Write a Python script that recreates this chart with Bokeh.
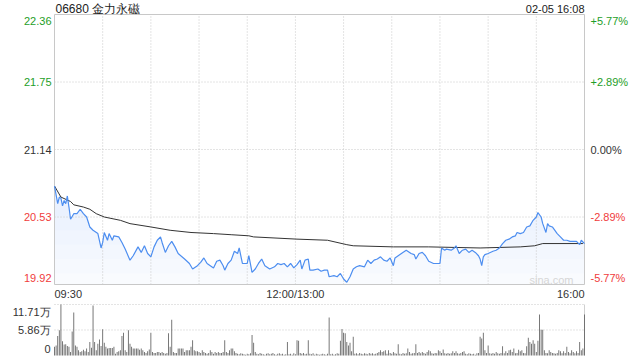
import numpy as np
from bokeh.plotting import figure
from bokeh.models import Range1d, Label
from bokeh.embed import file_html
from bokeh.resources import INLINE

# ---------------- data ----------------
title_text = "06680 金力永磁"
stamp_text = "02-05 16:08"
prev_close = 21.14
price_ticks = [22.36, 21.75, 21.14, 20.53, 19.92]
price_tick_labels = ["22.36", "21.75", "21.14", "20.53", "19.92"]
pct_tick_labels = ["+5.77%", "+2.89%", "0.00%", "-2.89%", "-5.77%"]
time_ticks = [0, 150, 330]            # minutes since 09:30 (lunch break removed)
time_labels = ["09:30", "12:00/13:00", "16:00"]
vol_ticks = [117.1, 58.6, 0]          # thousand shares
vol_tick_labels = ["11.71万", "5.86万", "0"]

# minute-of-session, last price
price_t = [0, 2, 3, 4, 5, 6, 7, 8, 9, 10, 12, 14, 16, 18, 20, 22, 24, 27, 29, 30,
           31, 33, 34, 36, 37, 40, 42, 44, 47, 49, 52, 54, 56, 58, 60, 62, 64, 66, 67, 69,
           71, 73, 75, 77, 81, 84, 86, 89, 91, 93, 95, 97, 99, 101, 103, 105, 106, 108, 110, 112,
           114, 115, 117, 120, 121, 123, 125, 127, 129, 131, 134, 137, 139, 141, 143, 145, 147, 149, 151, 153,
           154, 156, 158, 159, 161, 164, 166, 168, 170, 171, 174, 176, 178, 180, 182, 184, 186, 188, 190, 193,
           195, 197, 199, 201, 203, 205, 207, 209, 211, 212, 214, 216, 219, 222, 224, 225, 227, 229, 231, 233,
           236, 240, 241, 243, 244, 247, 249, 250, 252, 254, 256, 258, 260, 262, 264, 265, 266, 267, 268, 270,
           273, 275, 277, 279, 281, 283, 285, 287, 288, 290, 292, 294, 296, 298, 300, 301, 303, 304, 306, 307,
           308, 310, 311, 313, 315, 317, 319, 321, 323, 325, 327, 328, 330]
price_v = [20.81, 20.65, 20.71, 20.70, 20.63, 20.68, 20.65, 20.72, 20.62, 20.51, 20.56, 20.56, 20.60, 20.56, 20.53, 20.44, 20.41, 20.38, 20.25, 20.30,
           20.39, 20.32, 20.38, 20.32, 20.36, 20.35, 20.30, 20.24, 20.14, 20.18, 20.26, 20.21, 20.27, 20.20, 20.17, 20.26, 20.32, 20.35, 20.30, 20.21,
           20.27, 20.31, 20.26, 20.20, 20.15, 20.11, 20.06, 20.09, 20.12, 20.16, 20.11, 20.09, 20.07, 20.13, 20.14, 20.09, 20.05, 20.11, 20.14, 20.22,
           20.20, 20.25, 20.11, 20.11, 20.18, 20.03, 20.06, 20.11, 20.15, 20.09, 20.06, 20.08, 20.11, 20.10, 20.11, 20.08, 20.11, 20.07, 20.10, 20.14,
           20.06, 20.14, 20.15, 20.05, 20.05, 20.06, 20.04, 20.05, 20.05, 19.99, 20.00, 19.99, 20.02, 19.97, 19.94, 19.99, 20.06, 20.08, 20.09, 20.08,
           20.14, 20.11, 20.14, 20.15, 20.17, 20.14, 20.13, 20.16, 20.09, 20.16, 20.18, 20.20, 20.23, 20.20, 20.19, 20.15, 20.20, 20.21, 20.18, 20.13,
           20.11, 20.11, 20.25, 20.23, 20.24, 20.23, 20.25, 20.27, 20.20, 20.23, 20.24, 20.21, 20.23, 20.21, 20.18, 20.15, 20.09, 20.17, 20.19, 20.20,
           20.22, 20.23, 20.25, 20.29, 20.32, 20.33, 20.35, 20.36, 20.39, 20.38, 20.39, 20.44, 20.45, 20.50, 20.53, 20.57, 20.53, 20.47, 20.39, 20.47,
           20.45, 20.44, 20.42, 20.38, 20.35, 20.32, 20.32, 20.31, 20.31, 20.31, 20.28, 20.32, 20.29]

# minute-of-session, average price
avg_t = [0, 4, 10, 12, 18, 22, 26, 31, 41, 47, 60, 72, 85, 99, 110, 121, 124, 151, 170, 182,
         186, 211, 233, 265, 290, 299, 304, 329]
avg_v = [20.81, 20.71, 20.67, 20.64, 20.62, 20.60, 20.56, 20.53, 20.50, 20.47, 20.44, 20.41, 20.39, 20.38, 20.37, 20.36, 20.35, 20.33, 20.32, 20.28,
         20.27, 20.26, 20.26, 20.25, 20.26, 20.27, 20.29, 20.29]

# volume per minute, thousand shares (minutes 0..330)
vol = [20, 23, 45, 58, 117, 33, 25, 26, 22, 20,
       8, 55, 99, 23, 20, 12, 8, 10, 13, 10,
       16, 8, 31, 18, 115, 31, 12, 27, 37, 22,
       60, 29, 20, 16, 17, 17, 17, 20, 4, 8,
       10, 12, 45, 52, 12, 8, 58, 27, 20, 16,
       16, 16, 16, 13, 16, 12, 8, 6, 10, 14,
       52, 8, 6, 6, 8, 8, 6, 8, 6, 4,
       6, 51, 20, 82, 8, 6, 6, 16, 16, 16,
       16, 8, 12, 12, 12, 20, 35, 12, 10, 10,
       8, 6, 12, 8, 6, 4, 6, 12, 8, 4,
       8, 6, 8, 6, 6, 8, 35, 8, 6, 12,
       16, 16, 10, 6, 4, 3, 5, 4, 3, 2,
       4, 3, 5, 47, 29, 8, 4, 3, 6, 4,
       3, 2, 4, 5, 3, 4, 6, 3, 2, 4,
       5, 3, 4, 2, 3, 31, 3, 4, 2, 5,
       3, 35, 34, 6, 4, 6, 3, 4, 35, 4,
       3, 5, 2, 4, 3, 2, 3, 4, 3, 2,
       4, 87, 3, 4, 2, 3, 5, 4, 34, 61,
       52, 51, 31, 23, 29, 10, 43, 4, 5, 3,
       6, 4, 3, 5, 4, 3, 6, 4, 5, 3,
       4, 6, 8, 12, 8, 10, 12, 4, 12, 6,
       4, 8, 5, 4, 26, 4, 3, 6, 4, 5,
       16, 8, 4, 5, 6, 26, 6, 8, 5, 8,
       6, 4, 8, 12, 10, 5, 4, 6, 5, 12,
       10, 6, 14, 5, 4, 6, 4, 5, 10, 6,
       10, 5, 4, 6, 8, 10, 4, 3, 5, 4,
       3, 4, 2, 5, 6, 43, 39, 52, 12, 6,
       23, 5, 4, 6, 4, 8, 5, 4, 6, 21,
       5, 10, 6, 12, 13, 8, 16, 5, 6, 13,
       10, 12, 6, 5, 21, 41, 31, 27, 35, 27,
       8, 34, 94, 59, 59, 12, 6, 5, 12, 8,
       6, 5, 4, 6, 12, 10, 5, 10, 6, 20,
       8, 5, 12, 8, 5, 10, 6, 31, 12, 16,
       94]

# ---------------- layout / style ----------------
FONT = "Liberation Sans"
GREEN, RED, DARK = "#1e9e28", "#f03c3c", "#333333"
GRID = "#c8c8c8"
W, H = 640, 360
LEFT, RIGHT = 54, 584          # pixel span of the session
TOP = 14
PX_PRICE = 270                  # price panel height (px)
PX_GAP = 20
PX_VOL = 51                     # volume panel height (px)

p_hi, p_lo = max(price_ticks), min(price_ticks)
per_px = (p_hi - p_lo) / PX_PRICE
y_top = p_hi + TOP * per_px
y_bottom = y_top - H * per_px
vol_max = max(vol_ticks)
vol_px = vol_max / PX_VOL
vol_lo = -(H - TOP - PX_PRICE - PX_GAP - PX_VOL) * vol_px
vol_hi = vol_lo + H * vol_px
t_end = max(time_ticks)
t_per_px = t_end / (RIGHT - LEFT)
x_lo = -LEFT * t_per_px
x_hi = x_lo + W * t_per_px

p = figure(width=W, height=H, x_range=Range1d(x_lo, x_hi),
           y_range=Range1d(y_bottom, y_top),
           x_axis_type=None, y_axis_type=None,
           toolbar_location=None, output_backend="svg",
           min_border=0, min_border_left=0, min_border_right=0,
           min_border_top=0, min_border_bottom=0,
           outline_line_color=None, background_fill_color="white",
           border_fill_color="white")
p.extra_y_ranges = {"vol": Range1d(vol_lo, vol_hi)}

pt = np.array(price_t, dtype=float)
pv = np.array(price_v, dtype=float)

# gradient-like fill under the price line
p.varea(x=pt, y1=np.full_like(pv, p_lo), y2=pv, fill_color="#4d8ef0", fill_alpha=0.035)
for lvl in np.linspace(p_lo + 0.1, 20.8, 7):
    p.varea(x=pt, y1=np.minimum(pv, lvl), y2=pv, fill_color="#4d8ef0", fill_alpha=0.018)

# grid lines (dotted)
grid_t = list(range(30, t_end, 30))
p.segment(x0=grid_t, x1=grid_t, y0=[p_lo] * len(grid_t), y1=[p_hi] * len(grid_t),
          line_color=GRID, line_width=1, line_dash="1 2")
inner = price_ticks[1:-1]
p.segment(x0=[0] * len(inner), x1=[t_end] * len(inner), y0=inner, y1=inner,
          line_color=GRID, line_width=1, line_dash="1 2")
vol_grid = [v for v in vol_ticks if v > 0]
p.segment(x0=[0] * len(vol_grid), x1=[t_end] * len(vol_grid), y0=vol_grid, y1=vol_grid,
          line_color=GRID, line_width=1, line_dash="1 2", y_range_name="vol")
p.segment(x0=[t_end], x1=[t_end], y0=[0], y1=[vol_max], line_color="#d0d0d0",
          line_width=1, y_range_name="vol")

# frame of price panel
p.quad(left=[0], right=[t_end], bottom=[p_lo], top=[p_hi], fill_color=None,
       line_color="#c8c8c8", line_width=1)

# lines
p.line(avg_t, avg_v, line_color="#333333", line_width=1)
p.line(pt, pv, line_color="#4d8ef0", line_width=1.2)

# volume bars
p.vbar(x=list(range(len(vol))), top=vol, bottom=0, width=0.55,
       fill_color="#666666", line_color=None, y_range_name="vol")

# ---------------- texts ----------------
def lab(**kw):
    base = dict(text_font=FONT, text_font_size="11px", text_baseline="middle")
    base.update(kw)
    p.add_layout(Label(**base))

n = len(price_ticks)
for i, (v, s, pc) in enumerate(zip(price_ticks, price_tick_labels, pct_tick_labels)):
    col = GREEN if v > prev_close + 1e-9 else (RED if v < prev_close - 1e-9 else DARK)
    off = -6 if i == 0 else (7 if i == n - 1 else 0)
    lab(x=0, y=v, text=s, x_offset=-3, y_offset=off, text_align="right", text_color=col)
    lab(x=t_end, y=v, text=pc, x_offset=6, y_offset=off, text_align="left", text_color=col)

aligns = ["left", "center", "right"]
for t, s, a in zip(time_ticks, time_labels, aligns):
    lab(x=t, y=p_lo, text=s, y_offset=-9, text_align=a, text_color=DARK)

nv = len(vol_ticks)
for i, (v, s) in enumerate(zip(vol_ticks, vol_tick_labels)):
    off = -7 if i == 0 else (7 if i == nv - 1 else 0)
    lab(x=0, y=v, text=s, x_offset=-4, y_offset=off, text_align="right",
        text_color=DARK, y_range_name="vol")

lab(x=0, y=p_hi, text=title_text, x_offset=1, y_offset=6, text_align="left",
    text_color="#222222", text_font_size="12px")
lab(x=t_end, y=p_hi, text=stamp_text, y_offset=6, text_align="right",
    text_color="#222222")
lab(x=t_end, y=p_lo, text="sina.com", x_offset=-11, y_offset=5, text_align="right",
    text_color="#d6d6d6", text_font_size="11px")

open("out.html", "w").write(file_html(p, INLINE))
